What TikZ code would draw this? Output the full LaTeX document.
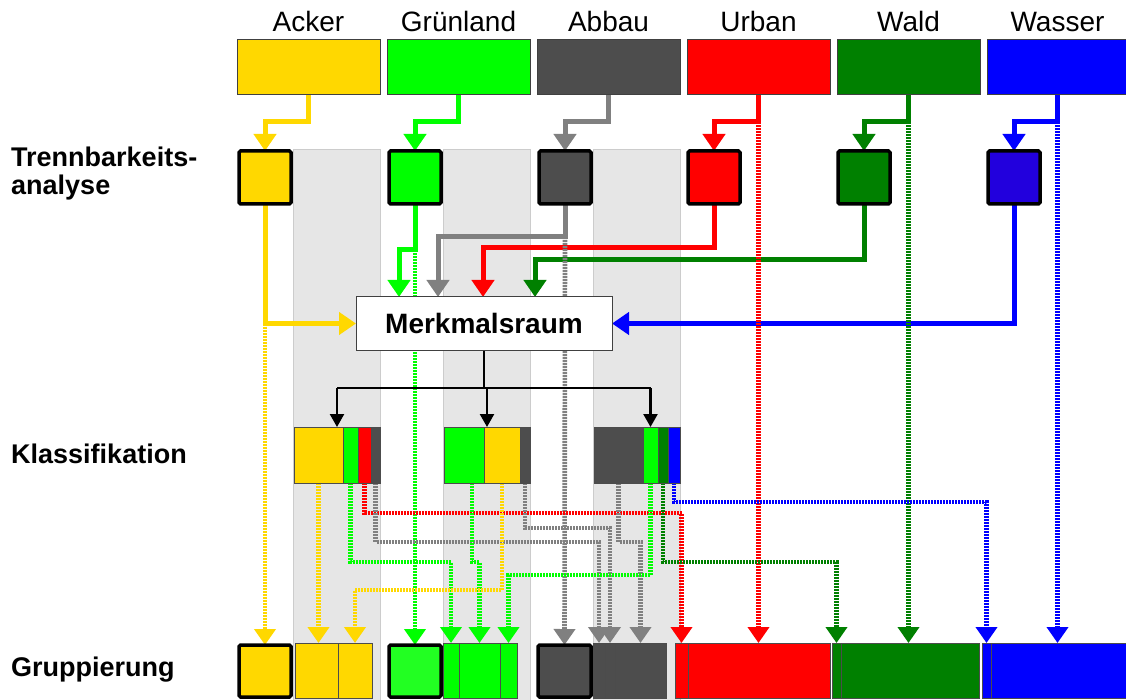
\documentclass[tikz,border=0pt]{standalone}
\usepackage{fontspec}
\setmainfont{Liberation Sans}
\usetikzlibrary{arrows.meta}
\pgfdeclarelayer{back}
\pgfdeclarelayer{front}
\pgfsetlayers{back,main,front}

\definecolor{cYel}{HTML}{FFD800}
\definecolor{cGrn}{HTML}{00FF00}
\definecolor{cLgr}{HTML}{22FF22}
\definecolor{cGry}{HTML}{4D4D4D}
\definecolor{cArr}{HTML}{808080}
\definecolor{cRed}{HTML}{FF0000}
\definecolor{cDkG}{HTML}{008000}
\definecolor{cBlu}{HTML}{0000FF}
\definecolor{cVio}{HTML}{2200DD}
\definecolor{cCol}{HTML}{E6E6E6}

% rectangle node given by its corners: name, x1, y1, x2, y2, style
\newcommand\tile[6]{\node[cell,#6,minimum width={#4-#2},minimum height={#5-#3}] (#1) at ({(#2+#4)/2},{(#3+#5)/2}) {};}

\tikzset{
  cell/.style={inner sep=0pt, outer sep=0pt},
  thinframe/.style={draw=black!75, line width=1pt},
  segframe/.style={draw=black!70, line width=0.8pt},
  heavy/.style={draw=black, line width=3.5pt, rounded corners=1.5pt},
  sol/.style={line width=5pt, -{Triangle[width=22pt,length=17pt]}},
  dotline/.style={line width=4.6pt, dash pattern=on 2pt off 1pt, -{Triangle[width=21pt,length=16pt]}},
  blk/.style={line width=2.4pt, black},
  blkarrow/.style={blk, -{Triangle[width=14pt,length=13pt]}},
  lab/.style={font=\fontsize{28}{32}\selectfont, inner sep=0pt},
  head/.style={font=\bfseries\fontsize{27}{32}\selectfont, inner sep=0pt},
}

\begin{document}
\begin{tikzpicture}[x=1pt,y=-1pt]
\useasboundingbox (0,0) rectangle (1126,700);

% light background columns behind the class bars
\begin{pgfonlayer}{back}
  \foreach \xa/\xb in {293/380, 443/530, 593/680}
    \filldraw[fill=cCol, draw=black!20, line width=1pt] (\xa,150) rectangle (\xb,702);
\end{pgfonlayer}

\begin{pgfonlayer}{front}
  % land cover classes
  \tile{tA}{237}{40}{380}{95}{thinframe, fill=cYel}
  \tile{tG}{387}{40}{530}{95}{thinframe, fill=cGrn}
  \tile{tB}{537}{40}{680}{95}{thinframe, fill=cGry}
  \tile{tU}{687}{40}{830}{95}{thinframe, fill=cRed}
  \tile{tW}{837}{40}{980}{95}{thinframe, fill=cDkG}
  \tile{tS}{987}{40}{1128}{95}{thinframe, fill=cBlu}

  % separability analysis
  \tile{sA}{239}{151}{291}{204}{heavy, fill=cYel}
  \tile{sG}{389}{151}{441}{204}{heavy, fill=cGrn}
  \tile{sB}{539}{151}{591}{204}{heavy, fill=cGry}
  \tile{sU}{688}{151}{740}{204}{heavy, fill=cRed}
  \tile{sW}{838}{151}{890}{204}{heavy, fill=cDkG}
  \tile{sS}{988}{151}{1040}{204}{heavy, fill=cVio}

  % feature space
  \node[cell, thinframe, fill=white, minimum width=256, minimum height=53,
        font=\bfseries\fontsize{28}{32}\selectfont] (m) at (484,323.5) {Merkmalsraum};

  % classification results
  \tile{c1y}{294}{427}{343}{483}{segframe, fill=cYel}
  \tile{c1g}{343}{427}{358}{483}{segframe, fill=cGrn}
  \tile{c1r}{358}{427}{371}{483}{segframe, fill=cRed}
  \tile{c1b}{371}{427}{380}{483}{segframe, fill=cGry}
  \tile{c1}{294}{427}{380}{483}{segframe}
  \tile{c2g}{444}{427}{484}{483}{segframe, fill=cGrn}
  \tile{c2y}{484}{427}{520}{483}{segframe, fill=cYel}
  \tile{c2b}{520}{427}{530}{483}{segframe, fill=cGry}
  \tile{c2}{444}{427}{530}{483}{segframe}
  \tile{c3b}{594}{427}{643}{483}{segframe, fill=cGry}
  \tile{c3g}{643}{427}{658}{483}{segframe, fill=cGrn}
  \tile{c3w}{658}{427}{668}{483}{segframe, fill=cDkG}
  \tile{c3s}{668}{427}{680}{483}{segframe, fill=cBlu}
  \tile{c3}{594}{427}{680}{483}{segframe}

  % grouping
  \tile{gA}{239}{645}{291}{697}{heavy, fill=cYel}
  \tile{gA2}{295}{643}{338}{698}{segframe, fill=cYel}
  \tile{gA3}{338}{643}{372}{698}{segframe, fill=cYel}
  \tile{gG}{389}{645}{441}{697}{heavy, fill=cLgr}
  \tile{gG2}{443}{643}{459}{698}{segframe, fill=cGrn}
  \tile{gG3}{459}{643}{500}{698}{segframe, fill=cGrn}
  \tile{gG4}{500}{643}{517}{698}{segframe, fill=cGrn}
  \tile{gB}{538}{645}{591}{697}{heavy, fill=cGry}
  \tile{gB2}{593}{643}{605}{698}{segframe, fill=cGry}
  \tile{gB3}{605}{643}{615}{698}{segframe, fill=cGry}
  \tile{gB4}{615}{643}{666}{698}{segframe, fill=cGry}
  \tile{gU1}{675}{643}{688}{698}{segframe, fill=cRed}
  \tile{gU2}{688}{643}{830}{698}{segframe, fill=cRed}
  \tile{gW1}{832}{643}{841}{698}{segframe, fill=cDkG}
  \tile{gW2}{841}{643}{979}{698}{segframe, fill=cDkG}
  \tile{gS1}{982}{643}{991}{698}{segframe, fill=cBlu}
  \tile{gS2}{991}{643}{1128}{698}{segframe, fill=cBlu}
\end{pgfonlayer}

% class names
\node[lab, anchor=base] (nA) at (tA.north |- 0,32) {Acker};
\node[lab, anchor=base] (nG) at (tG.north |- 0,32) {Grünland};
\node[lab, anchor=base] (nB) at (tB.north |- 0,32) {Abbau};
\node[lab, anchor=base] (nU) at (tU.north |- 0,32) {Urban};
\node[lab, anchor=base] (nW) at (tW.north |- 0,32) {Wald};
\node[lab, anchor=base] (nS) at (tS.north |- 0,32) {Wasser};

% stage names
\node[head, anchor=base west] (l1a) at (11,167) {Trennbarkeits-};
\node[head, anchor=base west] (l1b) at (11,195) {analyse};
\node[head, anchor=base west] (l2) at (11,463) {Klassifikation};
\node[head, anchor=base west] (l3) at (11,676) {Gruppierung};

% class -> separability analysis
\draw[sol, cYel] (tA.south) -- ++(0,27) -| (sA.north);
\draw[sol, cGrn] (tG.south) -- ++(0,27) -| (sG.north);
\draw[sol, cArr] (tB.south) -- ++(0,27) -| (sB.north);
\draw[sol, cRed] (tU.south) -- ++(0,27) -| (sU.north);
\draw[sol, cDkG] (tW.south) -- ++(0,27) -| (sW.north);
\draw[sol, cBlu] (tS.south) -- ++(0,27) -| (sS.north);

% separability analysis -> feature space
\coordinate (kG) at (399,250);
\coordinate (kB) at (438,237);
\coordinate (kU) at (483,248);
\coordinate (kW) at (535,260);
\draw[sol, cYel] (sA.south) |- (m.west);
\draw[sol, cGrn] (sG.south) |- (kG) -- (kG |- m.north);
\draw[sol, cArr] (sB.south) |- (kB) -- (kB |- m.north);
\draw[sol, cRed] (sU.south) |- (kU) -- (kU |- m.north);
\draw[sol, cDkG] (sW.south) |- (kW) -- (kW |- m.north);
\draw[sol, cBlu] (sS.south) |- (m.east);

% direct assignments to the groups
\draw[dotline, cYel] (sA.south |- m.west) -- (gA.north);
\draw[dotline, cGrn] (sG.south |- kG) -- (gG.north);
\draw[dotline, cArr] (sB.south |- kB) -- (gB.north);
\draw[dotline, cRed] (tU.south) ++(0,27) -- (tU.south |- gU2.north);
\draw[dotline, cDkG] (tW.south) ++(0,27) -- (tW.south |- gW2.north);
\draw[dotline, cBlu] (tS.south) ++(0,27) -- (tS.south |- gS2.north);

% feature space -> classification
\coordinate (kc) at (m.south |- 0,388);
\draw[blk] (m.south) -- (kc);
\draw[blk] (c1.north |- kc) -- (c3g.north |- kc);
\draw[blkarrow] (c1.north |- kc) -- (c1.north);
\draw[blkarrow] (c2.north |- kc) -- (c2.north);
\draw[blkarrow] (c3g.north |- kc) -- (c3g.north);

% classification -> grouping
\coordinate (r1) at (0,502);
\coordinate (r2) at (0,513);
\coordinate (r3) at (0,528);
\coordinate (r4) at (0,542);
\coordinate (r5) at (0,562);
\coordinate (r6) at (0,575);
\coordinate (r7) at (0,590);
\draw[dotline, cYel] (c1y.south) -- (c1y.south |- gA2.north);
\draw[dotline, cGrn] (c1g.south) |- (gG2.north |- r5) -- (gG2.north);
\draw[dotline, cRed] (c1r.south) |- (gU1.north |- r2) -- (gU1.north);
\draw[dotline, cArr] (c1b.south) |- (gB2.north |- r4) -- (gB2.north);
\draw[dotline, cGrn] ([xshift=8pt]c2g.south) |- (gG3.north |- r5) -- (gG3.north);
\draw[dotline, cYel] (c2y.south) |- (gA3.north |- r7) -- (gA3.north);
\draw[dotline, cArr] (c2b.south) |- (gB3.north |- r3) -- (gB3.north);
\draw[dotline, cArr] (c3b.south) |- (gB4.north |- r4) -- (gB4.north);
\draw[dotline, cGrn] (c3g.south) |- (gG4.north |- r6) -- (gG4.north);
\draw[dotline, cDkG] (c3w.south) |- (gW1.north |- r5) -- (gW1.north);
\draw[dotline, cBlu] (c3s.south) |- (gS1.north |- r1) -- (gS1.north);

\end{tikzpicture}
\end{document}
